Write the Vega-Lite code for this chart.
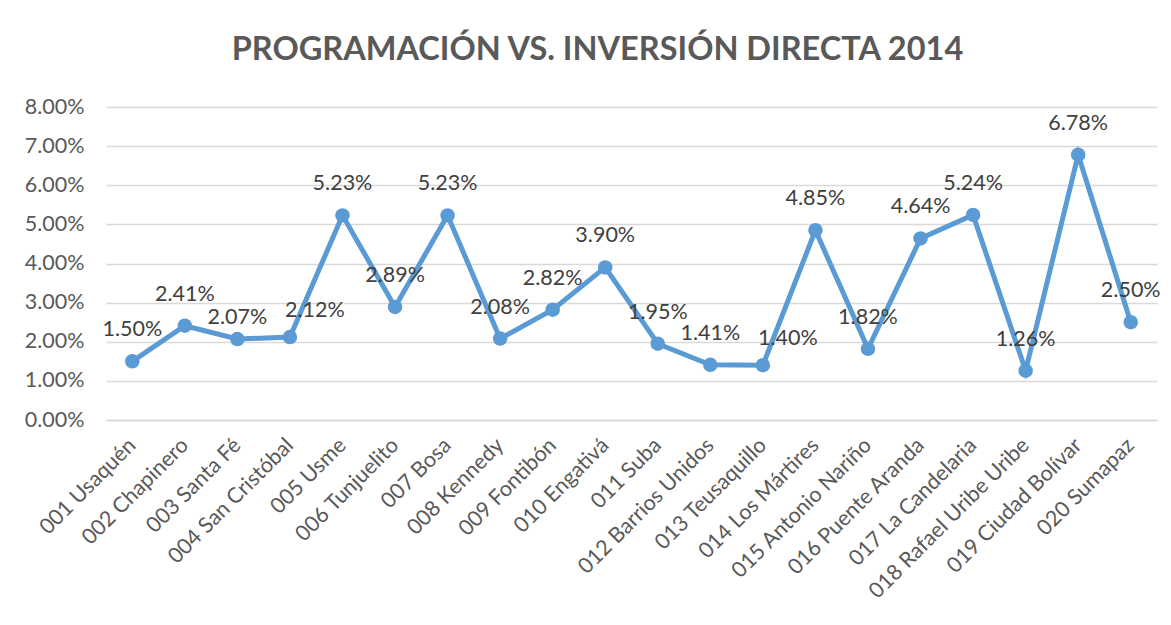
{
  "$schema": "https://vega.github.io/schema/vega-lite/v6.json",
  "width": 1051,
  "height": 313,
  "autosize": "none",
  "padding": {"left": 106, "top": 107, "right": 14, "bottom": 205},
  "background": "white",
  "config": {"view": {"stroke": null}, "font": "Lato"},
  "title": {
    "text": "PROGRAMACIÓN VS. INVERSIÓN DIRECTA 2014",
    "font": "Lato",
    "fontSize": 32.5,
    "fontWeight": "bold",
    "color": "#595959",
    "frame": "group",
    "anchor": "middle",
    "dx": -34,
    "offset": 30
  },
  "data": {
    "values": [
      {"localidad": "001 Usaquén", "valor": 0.0150},
      {"localidad": "002 Chapinero", "valor": 0.0241},
      {"localidad": "003 Santa Fé", "valor": 0.0207},
      {"localidad": "004 San Cristóbal", "valor": 0.0212},
      {"localidad": "005 Usme", "valor": 0.0523},
      {"localidad": "006 Tunjuelito", "valor": 0.0289},
      {"localidad": "007 Bosa", "valor": 0.0523},
      {"localidad": "008 Kennedy", "valor": 0.0208},
      {"localidad": "009 Fontibón", "valor": 0.0282},
      {"localidad": "010 Engativá", "valor": 0.0390},
      {"localidad": "011 Suba", "valor": 0.0195},
      {"localidad": "012 Barrios Unidos", "valor": 0.0141},
      {"localidad": "013 Teusaquillo", "valor": 0.0140},
      {"localidad": "014 Los Mártires", "valor": 0.0485},
      {"localidad": "015 Antonio Nariño", "valor": 0.0182},
      {"localidad": "016 Puente Aranda", "valor": 0.0464},
      {"localidad": "017 La Candelaria", "valor": 0.0524},
      {"localidad": "018 Rafael Uribe Uribe", "valor": 0.0126},
      {"localidad": "019 Ciudad Bolívar", "valor": 0.0678},
      {"localidad": "020 Sumapaz", "valor": 0.0250}
    ]
  },
  "encoding": {
    "x": {
      "field": "localidad",
      "type": "nominal",
      "sort": null,
      "scale": {"type": "point", "padding": 0.5},
      "axis": {
        "title": null,
        "labelAngle": -45,
        "labelAlign": "right",
        "labelBaseline": "middle",
        "labelFontSize": 21.5,
        "labelColor": "#595959",
        "labelPadding": 22,
        "labelLimit": 0,
        "labelOverlap": false,
        "ticks": false,
        "domain": true,
        "domainColor": "#d9d9d9",
        "domainWidth": 1.3,
        "grid": false
      }
    },
    "y": {
      "field": "valor",
      "type": "quantitative",
      "scale": {"domain": [0, 0.08]},
      "axis": {
        "title": null,
        "values": [0, 0.01, 0.02, 0.03, 0.04, 0.05, 0.06, 0.07, 0.08],
        "format": ".2%",
        "grid": true,
        "gridColor": "#d9d9d9",
        "gridWidth": 1.3,
        "domain": false,
        "ticks": false,
        "labelFontSize": 21.5,
        "labelColor": "#595959",
        "labelPadding": 22
      }
    }
  },
  "layer": [
    {"mark": {"type": "line", "color": "#5B9BD5", "strokeWidth": 5}},
    {"mark": {"type": "point", "filled": true, "color": "#5B9BD5", "size": 210, "opacity": 1}},
    {
      "transform": [{"filter": "datum.localidad != '003 Santa Fé' && datum.localidad != '004 San Cristóbal' && datum.localidad != '013 Teusaquillo'"}],
      "mark": {"type": "text", "dy": -31, "baseline": "middle", "fontSize": 21.5, "color": "#404040"},
      "encoding": {"text": {"field": "valor", "type": "quantitative", "format": ".2%"}}
    },
    {
      "transform": [{"filter": "datum.localidad == '003 Santa Fé'"}],
      "mark": {"type": "text", "dy": -21, "baseline": "middle", "fontSize": 21.5, "color": "#404040"},
      "encoding": {"text": {"field": "valor", "type": "quantitative", "format": ".2%"}}
    },
    {
      "transform": [{"filter": "datum.localidad == '004 San Cristóbal' || datum.localidad == '013 Teusaquillo'"}],
      "mark": {"type": "text", "dx": 25, "dy": -26, "baseline": "middle", "fontSize": 21.5, "color": "#404040"},
      "encoding": {"text": {"field": "valor", "type": "quantitative", "format": ".2%"}}
    }
  ]
}
